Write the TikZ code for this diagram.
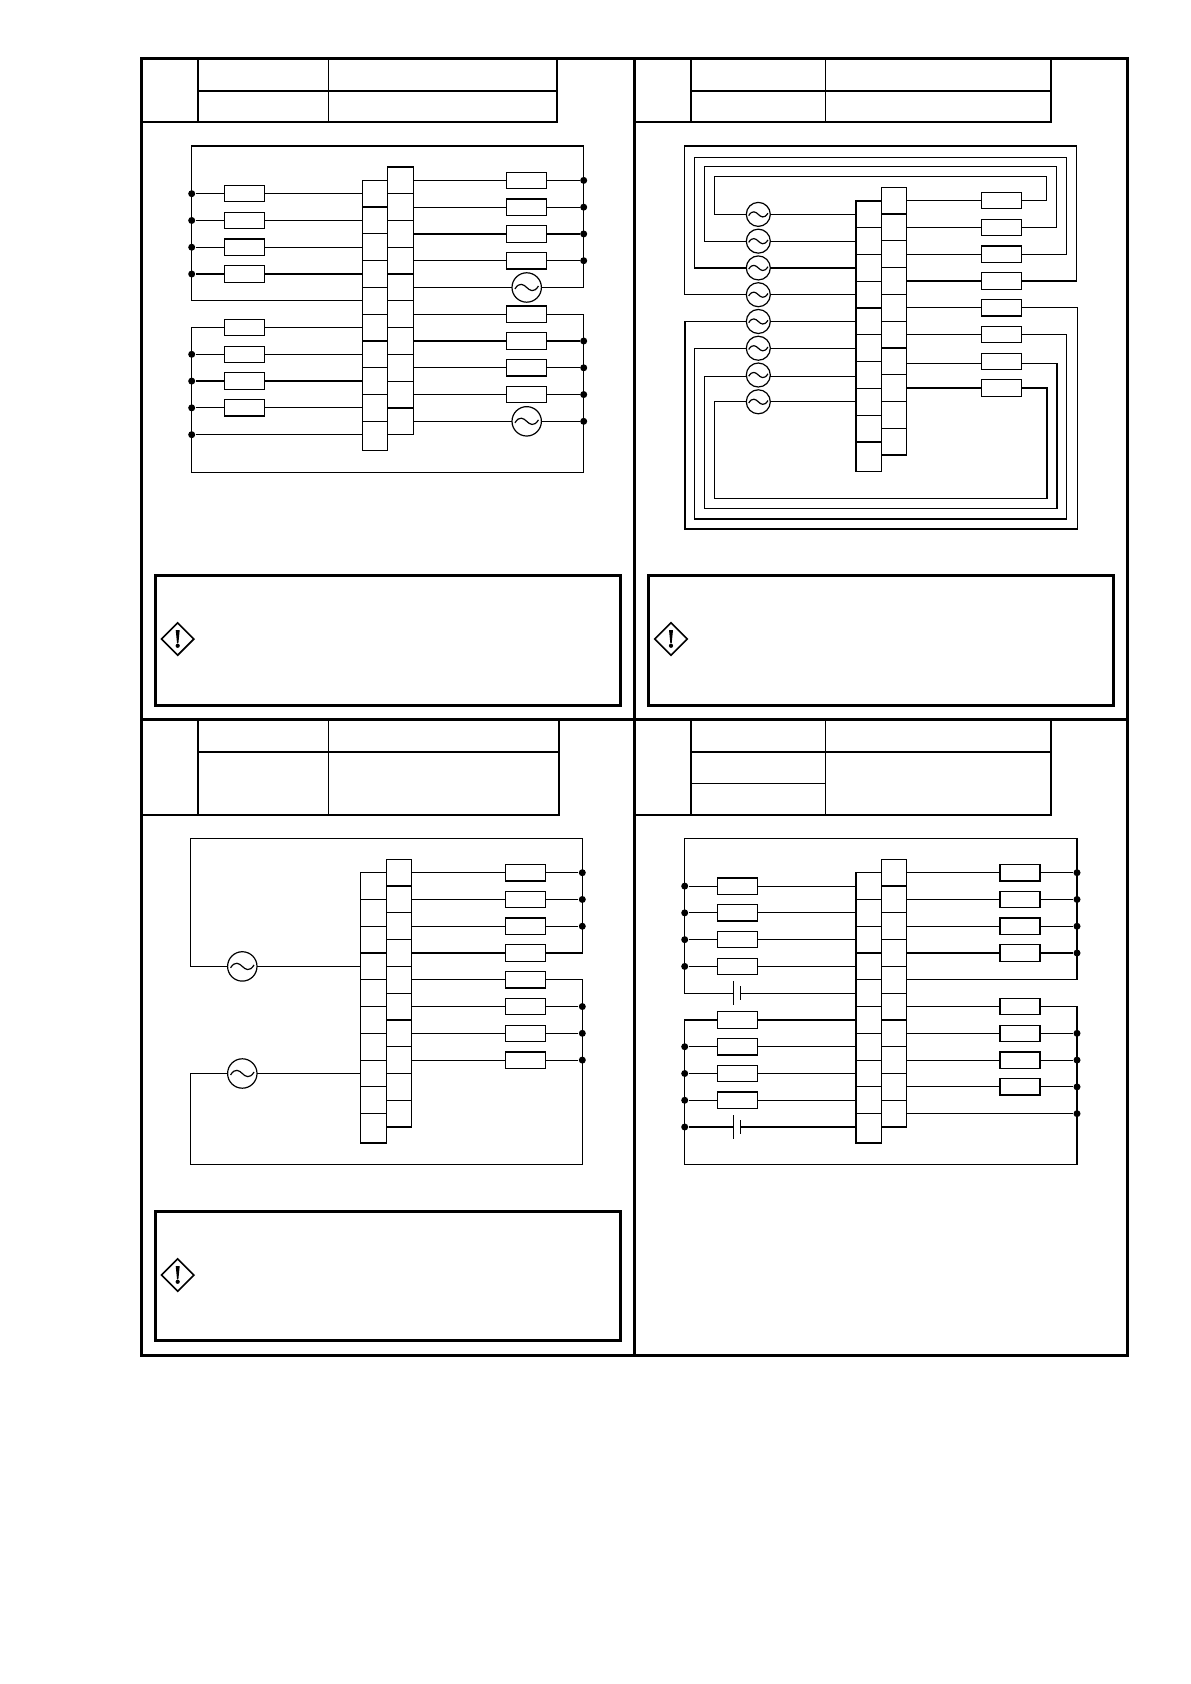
\documentclass[tikz,border=0pt]{standalone}
\usetikzlibrary{shapes.geometric}
\newcommand{\termblock}[4]{%
	\foreach \i in {0,...,8}{\node[cell] (#1-l\i) at ({#2+12.7},{#3+13.4+26.77*\i}) {};}
	\node[cell,minimum height=14.65pt] (#1-l9) at ({#2+12.7},{#3+240.93+14.65}) {};
	\foreach \i in {0,...,9}{\node[cell] (#1-r\i) at ({#2+38.1},{#4+13.4+26.77*\i}) {};}
}
\begin{document}
\begin{tikzpicture}[x=0.5pt,y=-0.5pt,line width=0.6pt,line join=miter,
	heavy/.style={line width=1.5pt,line cap=rect},
	medium/.style={line width=1pt,line cap=rect},
	cell/.style={rectangle,draw,inner sep=0pt,outer sep=0pt,minimum width=12.7pt,minimum height=13.385pt},
	res/.style={rectangle,draw,inner sep=0pt,outer sep=0pt,minimum width=20pt,minimum height=8.2pt},
	dot/.style={circle,fill=black,inner sep=0pt,minimum size=3.5pt},
	plate/.style={rectangle,fill=black,inner sep=0pt,outer sep=0pt,minimum width=0.6pt,minimum height=#1*0.5pt},
	acsrc/.style={circle,draw,inner sep=0pt,outer sep=0pt,minimum size=#1*0.5pt,path picture={
		\draw[shift={(path picture bounding box.center)}] ({-.4*#1},{.05*#1}) .. controls ({-.25*#1},{-.2*#1}) and ({-.1*#1},{-.1*#1}) .. (0,0) .. controls ({.1*#1},{.1*#1}) and ({.25*#1},{.2*#1}) .. ({.4*#1},{-.05*#1});}},
	warn/.style={diamond,draw,line width=0.8pt,inner sep=0pt,minimum size=16.5pt,path picture={
		\fill[shift={(path picture bounding box.center)}] (-2,-9) -- (2,-9) -- (0.7,4) -- (-0.7,4) -- cycle (0,6.8) circle(2.1);}}]
	\useasboundingbox (0,0) rectangle (1190,1684);
	\draw[heavy] (141.5,58.5) rectangle (1127.7,1355);
	\draw[heavy] (634.5,58.5)--(634.5,1355) (141.5,719.3)--(1127.7,719.3);
	\draw[medium] (198,58.5)--(198,122) (557,58.5)--(557,122) (198,90.7)--(557,90.7);
	\draw (328.3,58.5)--(328.3,122) (141.5,122)--(557,122);
	\draw[medium] (691,58.5)--(691,122) (1051.3,58.5)--(1051.3,122) (691,90.7)--(1051.3,90.7);
	\draw (825.3,58.5)--(825.3,122) (634.5,122)--(1051.3,122);
	\draw[medium] (198,719.3)--(198,814.7) (558.7,719.3)--(558.7,814.7) (198,752)--(558.7,752) (141.5,814.7)--(558.7,814.7);
	\draw (328.3,719.3)--(328.3,814.7);
	\draw[medium] (691,719.3)--(691,814.7) (1051.3,719.3)--(1051.3,814.7) (691,752)--(1051.3,752) (634.5,814.7)--(1051.3,814.7);
	\draw (825.3,719.3)--(825.3,814.7) (691,783.3)--(825.3,783.3);
	\draw[heavy] (155.3,575.3) rectangle (620.6,705.2);
	\draw[heavy] (648.3,575.3) rectangle (1113.7,705.2);
	\draw[heavy] (155.3,1211.7) rectangle (620.4,1340.4);
	\node[warn] (A-warn) at (177.7,639) {};
	\node[warn] (B-warn) at (671,639) {};
	\node[warn] (C-warn) at (177.7,1275) {};
	
	\termblock{A}{362.3}{180.3}{167}
	\coordinate (A-tl) at (191.7,146); \coordinate (A-tr) at (583.7,146);
	\coordinate (A-bl) at (191.7,472.3); \coordinate (A-br) at (583.7,472.3);
	\foreach \i in {0,1,2,3,5,6,7,8}{
		\node[res] (A-a\i) at (244.2,0 |- A-l\i) {};
		\draw (A-a\i.east)--(A-l\i.west);
		\node[res] (A-b\i) at (526.7,0 |- A-r\i) {};
		\draw (A-r\i.east)--(A-b\i.west);
	}
	\foreach \i in {4,9}{
		\node[acsrc=29.4] (A-b\i) at (526.7,0 |- A-r\i) {};
		\draw (A-r\i.east)--(A-b\i.west);
	}
	\foreach \i in {0,1,2,3,6,7,8}{
		\node[dot] (A-p\i) at (191.7,0 |- A-a\i) {};
		\draw (A-p\i)--(A-a\i.west);
	}
	\foreach \i in {0,1,2,3,6,7,8,9}{
		\node[dot] (A-q\i) at (583.7,0 |- A-b\i) {};
		\draw (A-b\i.east)--(A-q\i);
	}
	\node[dot] (A-p9) at (191.7,434.7) {};
	\draw (A-p9)--(A-p9 -| A-l9.west);
	\draw (A-l4.west) -| (A-tl)--(A-tr) |- (A-b4.east);
	\draw (A-a5.west) -| (A-bl)--(A-br) |- (A-b5.east);
	
	\termblock{B}{856}{201}{187.3}
	\foreach \i/\xl/\yc/\xr/\dy in {0/714.7/176.7/1046.7/0,1/704.7/166.7/1056.7/0,2/694.7/157.3/1066.7/0,3/684.3/146/1076.7/0,4/685/529/1077.3/0,5/694.7/519/1066.7/0,6/704.7/508.3/1057/-0.9,7/714.7/498.3/1047/0}{
		\node[acsrc=24] (B-s\i) at (758.3,0 |- B-l\i) {};
		\node[res] (B-e\i) at (1001.3,0 |- B-r\i) {};
		\coordinate (B-u\i) at (\xl,\yc);
		\coordinate (B-v\i) at (\xr,\yc);
		\draw ([yshift=\dy pt]B-s\i.east)--([yshift=\dy pt]B-l\i.west);
		\draw ([yshift=\dy pt]B-r\i.east)--([yshift=\dy pt]B-e\i.west);
		\draw ([yshift=\dy pt]B-s\i.west) -| (B-u\i)--(B-v\i) |- ([yshift=\dy pt]B-e\i.east);
	}
	
	\termblock{C}{360.7}{872.7}{859.3}
	\coordinate (C-tl) at (190.3,838.3); \coordinate (C-tr) at (582.3,838.3);
	\coordinate (C-bl) at (190.3,1164.7); \coordinate (C-br) at (582.3,1164.7);
	\foreach \i in {0,...,7}{
		\node[res] (C-b\i) at (525.5,0 |- C-r\i) {};
		\draw (C-r\i.east)--(C-b\i.west);
	}
	\foreach \i in {0,1,2,5,6,7}{
		\node[dot] (C-q\i) at (582.3,0 |- C-b\i) {};
		\draw (C-b\i.east)--(C-q\i);
	}
	\foreach \i in {3,7}{
		\node[acsrc=29.4] (C-s\i) at (242.3,0 |- C-l\i) {};
		\draw (C-s\i.east)--(C-l\i.west);
	}
	\draw (C-s3.west) -| (C-tl)--(C-tr) |- (C-b3.east);
	\draw (C-s7.west) -| (C-bl)--(C-br) |- (C-b4.east);
	
	\termblock{D}{856}{872.7}{859.3}
	\coordinate (D-tl) at (684.7,838.3); \coordinate (D-tr) at (1077,838.3);
	\coordinate (D-bl) at (684.7,1164.7); \coordinate (D-br) at (1077,1164.7);
	\foreach \i in {0,1,2,3,5,6,7,8}{
		\node[res] (D-a\i) at (737.3,0 |- D-l\i) {};
		\draw (D-a\i.east)--(D-l\i.west);
		\node[res] (D-b\i) at (1020,0 |- D-r\i) {};
		\draw (D-r\i.east)--(D-b\i.west);
	}
	\foreach \i in {0,1,2,3,6,7,8}{
		\node[dot] (D-p\i) at (684.7,0 |- D-a\i) {};
		\draw (D-p\i)--(D-a\i.west);
		\node[dot] (D-q\i) at (1077,0 |- D-b\i) {};
		\draw (D-b\i.east)--(D-q\i);
	}
	\node[plate=24.4] (D-e4) at (733.3,0 |- D-l4) {};
	\node[plate=14.6] (D-f4) at (740.7,0 |- D-l4) {};
	\draw (D-f4.east)--(D-l4.west);
	\node[plate=24.4] (D-e9) at (733.3,1127) {};
	\node[plate=14.6] (D-f9) at (740.7,1127) {};
	\draw (D-f9.east)--(D-f9 -| D-l9.west);
	\node[dot] (D-p9) at (684.7,1127) {};
	\draw (D-p9)--(D-e9.west);
	\node[dot] (D-q9) at (1077,0 |- D-r9) {};
	\draw (D-r9.east)--(D-q9);
	\draw (D-e4.west) -| (D-tl)--(D-tr) |- (D-r4.east);
	\draw (D-a5.west) -| (D-bl)--(D-br) |- (D-b5.east);
\end{tikzpicture}
\end{document}
